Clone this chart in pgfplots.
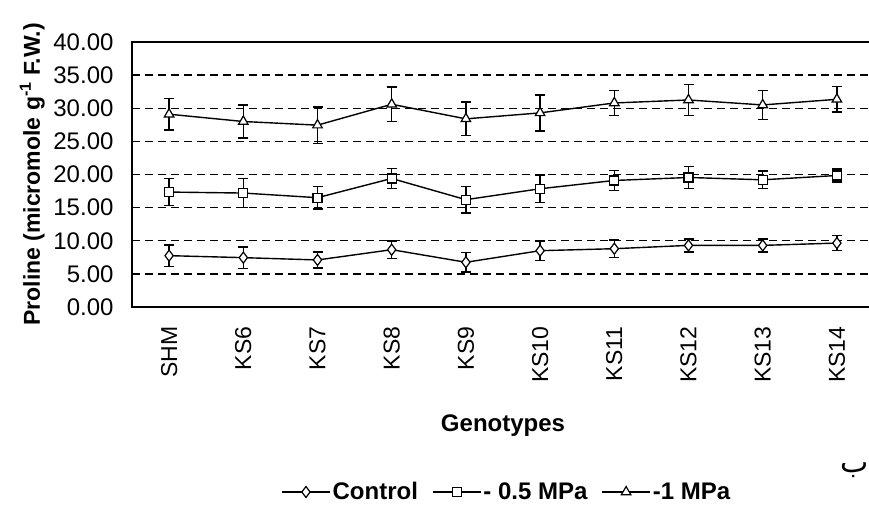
\documentclass[border=0pt]{standalone}
\usepackage{pgfplots}
\pgfplotsset{compat=1.18}
\usepackage{fontspec}
\setmainfont{Liberation Sans}
\newfontfamily\arabicfont[Script=Arabic]{DejaVu Sans}
\TeXXeTstate=1
\begin{document}
\begin{tikzpicture}
\begin{axis}[
  scale only axis, width=742pt, height=265pt,
  xmin=-0.5, xmax=9.5, ymin=0, ymax=40,
  clip=false,
  xtick={0,1,2,3,4,5,6,7,8,9},
  xticklabels={SHM,KS6,KS7,KS8,KS9,KS10,KS11,KS12,KS13,KS14},
  ytick={0,5,10,15,20,25,30,35,40},
  major tick length=0pt,
  ymajorgrids,
  grid style={black, line width=1.4pt, dash pattern=on 8pt off 5pt},
  axis line style={line width=1.6pt},
  /pgf/number format/assume math mode=true,
  yticklabel={\pgfmathprintnumber[fixed,fixed zerofill,precision=2]{\tick}},
  yticklabel style={font=\fontsize{24}{27}\selectfont, anchor=east, xshift=-15pt},
  xticklabel style={font=\fontsize{23}{26}\selectfont, yshift=-16pt, rotate=90, anchor=east},
  xlabel={Genotypes},
  xlabel style={font=\bfseries\fontsize{24}{28}\selectfont, at={(axis description cs:0.5,-0.468)}, anchor=base},
  ylabel={Proline (micromole g\textsuperscript{-1} F.W.)},
  ylabel style={font=\bfseries\fontsize{23}{27}\selectfont, at={(axis description cs:-0.124,0.5)}, anchor=base},
  legend style={at={(axis description cs:0.505,-0.698)}, anchor=center, draw=none,
    font=\bfseries\fontsize{24}{28}\selectfont,
    /tikz/every even column/.append style={column sep=12pt}},
  legend columns=-1,
  legend image code/.code={\draw[mark repeat=2,mark phase=2] plot coordinates {(0pt,0pt) (24pt,0pt) (48pt,0pt)};},
  error bars/y dir=both, error bars/y explicit,
  error bars/error mark=-,
  error bars/error bar style={line width=1.3pt, black, solid},
  error bars/error mark options={rotate=90, mark size=5pt, line width=1.6pt, black},
]
\addplot[black, line width=1.4pt, mark=diamond*, mark size=5.5pt, mark options={fill=white, draw=black, line width=1.2pt, solid}]
  coordinates {
  (0,7.75) +- (0,1.65)
  (1,7.45) +- (0,1.65)
  (2,7.10) +- (0,1.2)
  (3,8.65) +- (0,1.35)
  (4,6.75) +- (0,1.45)
  (5,8.50) +- (0,1.5)
  (6,8.80) +- (0,1.3)
  (7,9.30) +- (0,1.0)
  (8,9.30) +- (0,1.0)
  (9,9.65) +- (0,1.15)
  };
\addlegendentry{Control}
\addplot[black, line width=1.4pt, mark=square*, mark size=4.5pt, mark options={fill=white, draw=black, line width=1.2pt, solid}]
  coordinates {
  (0,17.35) +- (0,2.05)
  (1,17.20) +- (0,2.2)
  (2,16.50) +- (0,1.7)
  (3,19.40) +- (0,1.5)
  (4,16.20) +- (0,2.0)
  (5,17.85) +- (0,2.05)
  (6,19.10) +- (0,1.5)
  (7,19.55) +- (0,1.65)
  (8,19.20) +- (0,1.3)
  (9,19.85) +- (0,0.95)
  };
\addlegendentry{- 0.5 MPa}
\addplot[black, line width=1.4pt, mark=triangle*, mark size=5.5pt, mark options={fill=white, draw=black, line width=1.2pt, solid}]
  coordinates {
  (0,29.10) +- (0,2.4)
  (1,28.00) +- (0,2.5)
  (2,27.45) +- (0,2.75)
  (3,30.60) +- (0,2.6)
  (4,28.40) +- (0,2.5)
  (5,29.30) +- (0,2.7)
  (6,30.80) +- (0,1.9)
  (7,31.25) +- (0,2.35)
  (8,30.50) +- (0,2.2)
  (9,31.35) +- (0,1.95)
  };
\addlegendentry{-1 MPa}
\end{axis}
\node[font=\arabicfont\fontsize{30}{32}\selectfont, anchor=base] at (723pt,-165pt) {\beginR ب\endR};
\pgfresetboundingbox
\useasboundingbox (-132pt,-198pt) rectangle (737pt,307pt);
\end{tikzpicture}
\end{document}
